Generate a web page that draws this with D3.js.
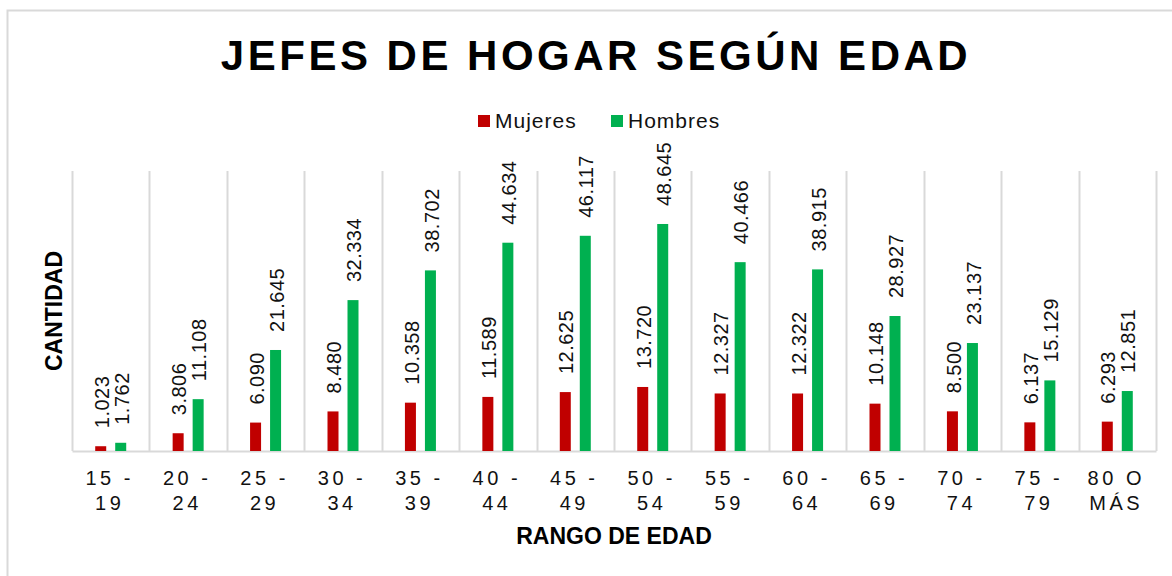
<!DOCTYPE html>
<html>
<head>
<meta charset="utf-8">
<script src="https://cdn.jsdelivr.net/npm/d3@7"></script>
<style>
  body { margin: 0; background: #fff; }
  text { font-family: "Liberation Sans", Arial, sans-serif; }
</style>
</head>
<body>
<div id="chart"></div>
<script>
// datos
var rangos = [["15 -", "19"], ["20 -", "24"], ["25 -", "29"], ["30 -", "34"], ["35 -", "39"],
  ["40 -", "44"], ["45 -", "49"], ["50 -", "54"], ["55 -", "59"], ["60 -", "64"],
  ["65 -", "69"], ["70 -", "74"], ["75 -", "79"], ["80 O", "MÁS"]];
var mujeres = [1.023, 3.806, 6.090, 8.480, 10.358, 11.589, 12.625, 13.720, 12.327, 12.322, 10.148, 8.500, 6.137, 6.293];
var hombres = [1.762, 11.108, 21.645, 32.334, 38.702, 44.634, 46.117, 48.645, 40.466, 38.915, 28.927, 23.137, 15.129, 12.851];
var series = ["Mujeres", "Hombres"];
var colores = ["#C00000", "#00B050"];

var W = 1172, H = 576;
var margin = {top: 171, right: 16, bottom: 125, left: 72},
    width = W - margin.left - margin.right,
    height = H - margin.top - margin.bottom;

var svg = d3.select("#chart").append("svg")
  .attr("width", W)
  .attr("height", H);

// borde del area del grafico
svg.append("rect")
  .attr("x", 7.5).attr("y", 10.5)
  .attr("width", W + 20).attr("height", H + 20)
  .attr("fill", "none")
  .attr("stroke", "#d9d9d9")
  .attr("stroke-width", 2);

svg.append("text")
  .attr("x", 596)
  .attr("y", 70)
  .attr("text-anchor", "middle")
  .style("font-size", "42px")
  .style("font-weight", "bold")
  .style("letter-spacing", "3.5px")
  .text("JEFES DE HOGAR SEGÚN EDAD");

var g = svg.append("g")
  .attr("transform", "translate(" + margin.left + "," + margin.top + ")");

var idx = d3.range(rangos.length);
var x = d3.scaleBand().domain(idx).range([0, width]).padding(0);
var c = x.bandwidth() / 2;
var x1 = d3.scaleBand().domain([0, 1]).range([c - 15.5, c + 15.5]).paddingInner(0.45).paddingOuter(0);
var y = d3.scaleLinear().domain([0, 60]).range([height, 0]);

// lineas verticales entre categorias
g.selectAll(".grid")
  .data(d3.range(rangos.length + 1))
  .enter().append("line")
    .attr("x1", function(d) { return Math.round(d * x.bandwidth()) + 0.5; })
    .attr("x2", function(d) { return Math.round(d * x.bandwidth()) + 0.5; })
    .attr("y1", 0)
    .attr("y2", height)
    .attr("stroke", "#d9d9d9")
    .attr("stroke-width", 2);

// eje x
var xAxis = g.append("g")
  .attr("transform", "translate(0," + height + ")")
  .call(d3.axisBottom(x).tickSize(0).tickFormat(""));
xAxis.select(".domain").attr("stroke", "#d9d9d9").attr("stroke-width", 2);

var ticks = g.selectAll(".tick-lbl")
  .data(idx)
  .enter().append("text")
    .attr("text-anchor", "middle")
    .style("font-size", "20px")
    .style("letter-spacing", "3.5px")
    .attr("fill", "#111")
    .attr("transform", function(d) { return "translate(" + (x(d) + c - 1) + "," + (height + 34) + ")"; });
ticks.append("tspan").attr("x", 0).attr("y", 0).text(function(d) { return rangos[d][0]; });
ticks.append("tspan").attr("x", 0).attr("y", 25).text(function(d) { return rangos[d][1]; });

var datos = [];
idx.forEach(function(i) {
  datos.push({i: i, s: 0, v: mujeres[i]});
  datos.push({i: i, s: 1, v: hombres[i]});
});

g.selectAll("rect.bar")
  .data(datos)
  .enter().append("rect")
    .attr("class", "bar")
    .attr("x", function(d) { return x(d.i) + x1(d.s); })
    .attr("y", function(d) { return y(d.v); })
    .attr("width", x1.bandwidth())
    .attr("height", function(d) { return height - y(d.v); })
    .attr("fill", function(d) { return colores[d.s]; });

// etiquetas de datos
g.selectAll("text.lbl")
  .data(datos)
  .enter().append("text")
    .attr("class", "lbl")
    .attr("transform", function(d) {
      return "translate(" + (x(d.i) + x1(d.s) + x1.bandwidth() / 2 + 1) + "," + (y(d.v) - 18) + ") rotate(-90)";
    })
    .attr("dy", "0.36em")
    .style("font-size", "20px")
    .style("letter-spacing", "0.5px")
    .attr("fill", "#111")
    .text(function(d) { return d3.format(".3f")(d.v); });

// leyenda
var leg = svg.append("g").attr("transform", "translate(478,0)");
var legX = [0, 133];
series.forEach(function(s, k) {
  leg.append("rect")
    .attr("x", legX[k]).attr("y", 115)
    .attr("width", 12).attr("height", 12)
    .attr("fill", colores[k]);
  leg.append("text")
    .attr("x", legX[k] + 17).attr("y", 128)
    .style("font-size", "21px")
    .style("letter-spacing", "1px")
    .attr("fill", "#111")
    .text(s);
});

// titulos de ejes
svg.append("text")
  .attr("x", 614).attr("y", 544)
  .attr("text-anchor", "middle")
  .style("font-size", "23px")
  .style("font-weight", "bold")
  .text("RANGO DE EDAD");

svg.append("text")
  .attr("transform", "translate(62,311) rotate(-90)")
  .attr("text-anchor", "middle")
  .style("font-size", "23px")
  .style("font-weight", "bold")
  .text("CANTIDAD");
</script>
</body>
</html>
